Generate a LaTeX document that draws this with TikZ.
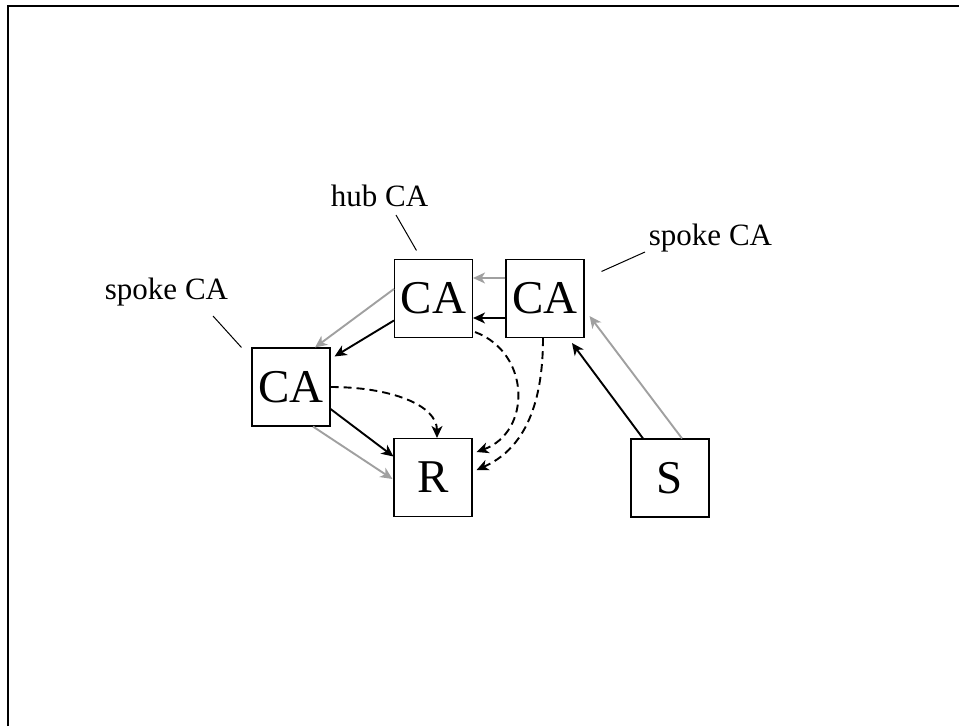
\documentclass[tikz,border=0pt]{standalone}
\usepackage{fontspec}
\setmainfont{Liberation Serif}
\usetikzlibrary{arrows.meta,calc}
\definecolor{arrgray}{RGB}{160,160,160}
\begin{document}
\begin{tikzpicture}[x=1pt,y=-1pt,
  box/.style={draw, line width=1.1pt, minimum size=78pt, inner sep=0pt, font=\fontsize{47}{50}\selectfont},
  lbl/.style={anchor=base, inner sep=0pt, font=\fontsize{31}{34}\selectfont},
  tick/.style={line width=1pt},
  blk/.style={line width=1.9pt, -{Stealth[length=12pt,width=11pt,inset=3.5pt]}},
  gry/.style={blk, color=arrgray},
  dsh/.style={blk, dash pattern=on 8pt off 5pt}
]
\useasboundingbox (0,0) rectangle (959,726);
\draw[line width=2.2pt] (8,726) -- (8,6.2) -- (959,6.2);

\node[box] (hub) at (433.5,298.5) {CA};
\node[box] (rca) at (545,298.5) {CA};
\node[box] (lca) at (291,387) {CA};
\node[box] (r) at (433,477.5) {R};
\node[box] (s) at (670,478) {S};

\node[lbl] (lblL) at (166.5,299) {spoke CA};
\node[lbl] (lblH) at (379.5,206) {hub CA};
\node[lbl] (lblR) at (710.5,245) {spoke CA};

\draw[tick] ($(lblL.base)+(46.5,17)$) -- ($(lca.north west)+(-10,0)$);
\draw[tick] ($(lblH.base)+(16.5,9)$) -- ($(hub.north west)+(22.5,-8.5)$);
\draw[tick] ($(lblR.base)+(-65.5,7)$) -- ($(rca.north east)+(17,12.5)$);

% hub -> left CA
\draw[gry] ($(hub.west)+(0,-9.5)$) -- ($(lca.north)+(24,0)$);
\draw[blk] ($(hub.west)+(0,22)$) -- ($(lca.north east)+(4,9)$);
% right CA -> hub
\draw[gry] ($(rca.west)+(0,-20.5)$) -- ($(hub.east)+(0,-20.5)$);
\draw[blk] ($(rca.west)+(0,19.5)$) -- ($(hub.east)+(0,19.5)$);
% dashed to R
\draw[dsh] ($(hub.south east)+(2,-6)$) .. controls ($(hub.south east)+(58,15)$) and ($(r.north east)+(59,-6)$) .. ($(r.east)+(4,-25.5)$);
\draw[dsh] ($(rca.south)+(-2,0)$) .. controls ($(rca.south)+(-2,73)$) and ($(r.east)+(48,-27)$) .. ($(r.east)+(4,-7.5)$);
\draw[dsh] (lca.east) .. controls ($(lca.east)+(60,0)$) and ($(r.north)+(4,-33)$) .. ($(r.north)+(4,0)$);
% left CA -> R
\draw[blk] ($(lca.east)+(0,22)$) -- ($(r.west)+(0,-21)$);
\draw[gry] ($(lca.south)+(22,0)$) -- ($(r.west)+(-1,1.5)$);
% S -> right CA
\draw[blk] ($(s.north)+(-27,0)$) -- ($(rca.south)+(27,5)$);
\draw[gry] ($(s.north)+(12,0)$) -- ($(rca.east)+(5,17.5)$);
\end{tikzpicture}
\end{document}
